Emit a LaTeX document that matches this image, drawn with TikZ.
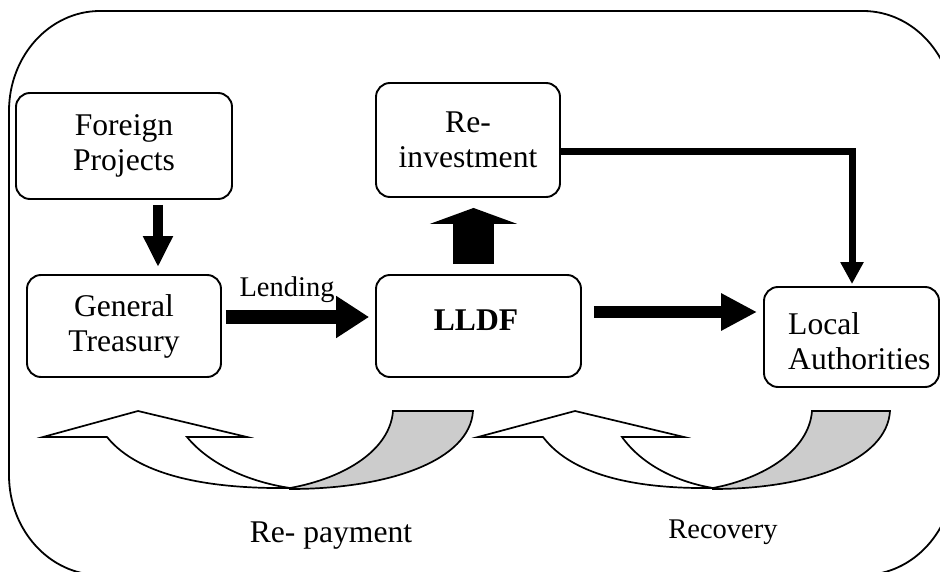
\documentclass[tikz,border=0pt]{standalone}
\usepackage{fontspec}
\setmainfont{Liberation Serif}
\usetikzlibrary{arrows.meta,calc}
\definecolor{bandgray}{gray}{0.8}
\newcommand\dgfont{\fontsize{31.6}{35}\selectfont}
\newcommand\dgsmall{\fontsize{28.5}{32}\selectfont}
\begin{document}
\begin{tikzpicture}[x=1pt,y=-1pt,
  box/.style={draw, line width=1.9pt, rounded corners=14pt, align=center, inner sep=0pt, font=\dgfont},
  txt/.style={inner sep=0pt, font=\dgfont},
  band/.style={draw, line width=1.7pt, line join=miter},
  blk/.style={draw=black, line join=miter}]
\useasboundingbox (0,0) rectangle (940,572);
% outer frame
\begin{scope}
\clip (0,0) rectangle (940,572);
\draw[line width=1.8pt] (9,111) .. controls (9,55.8) and (49.7,11) .. (100,11)
  -- (863,11) .. controls (913.3,11) and (954,55.8) .. (954,111)
  -- (954,475) .. controls (954,530.2) and (913.3,575) .. (863,575)
  -- (100,575) .. controls (49.7,575) and (9,530.2) .. (9,475) -- cycle;
\end{scope}
% boxes
\node[box, minimum width=216pt, minimum height=106pt] (fp) at (124,146) {Foreign\\Projects};
\node[box, minimum width=194pt, minimum height=102pt] (gt) at (124,326) {General\\Treasury};
\node[box, minimum width=205pt, minimum height=102pt] (lldf) at (478.5,326) {};
\node[txt, font=\dgfont\bfseries] (lldft) at (476,320) {LLDF};
\node[box, minimum width=184pt, minimum height=114pt] (ri) at (468,140) {Re-\\investment};
\node[box, minimum width=175pt, minimum height=100pt] (la) at (851.5,337) {};
\node[txt, anchor=west, align=left] (lat) at (788,341) {Local\\Authorities};
% block arrows
\draw[blk, line width=10pt, -{Triangle[length=31pt,width=28pt]}] ($(fp.south)+(34,5)$) -- ($(gt.north)+(34,-7)$);
\draw[blk, line width=14pt, -{Triangle[length=33pt,width=40pt]}] ($(gt.east)+(4,-9)$) -- ($(lldf.west)+(-6,-9)$);
\draw[blk, line width=12pt, -{Triangle[length=36pt,width=35pt]}] ($(lldf.east)+(12,-14)$) -- ($(la.west)+(-6,-25)$);
\draw[blk, line width=41pt, -{Triangle[length=16pt,width=87pt]}] ($(lldf.north)+(-5,-10)$) -- ($(ri.south)+(5.5,10)$);
\draw[blk, line width=7pt, -{Triangle[length=22pt,width=22pt]}] ($(ri.east)+(0,12)$) -| ($(la.north)+(0.5,-2)$);
\node[txt, font=\dgsmall] (lend) at (287,290) {Lending};
% curved arrow: re-payment
\draw[band, fill=bandgray] (290,488) .. controls (345,478) and (390,450) .. (393,411)
  -- (473,411) .. controls (470,460) and (390,489) .. (290,489) -- cycle;
\draw[band, fill=white] (43,437) -- (138,411) -- (247,437) -- (187,437)
  .. controls (210,465) and (250,482) .. (290,488)
  .. controls (215,489) and (140,478) .. (107,437) -- cycle;
% curved arrow: recovery
\draw[band, fill=bandgray] (713,488) .. controls (765,478) and (809,450) .. (812,411)
  -- (890,411) .. controls (887,460) and (810,489) .. (713,489) -- cycle;
\draw[band, fill=white] (478,437) -- (575,411) -- (684,437) -- (622,437)
  .. controls (642,465) and (677,482) .. (713,488)
  .. controls (643,489) and (574,478) .. (543,437) -- cycle;
\node[txt] (rp) at (331,536) {Re- payment};
\node[txt, font=\dgsmall] (rc) at (723,532) {Recovery};
\end{tikzpicture}
\end{document}
